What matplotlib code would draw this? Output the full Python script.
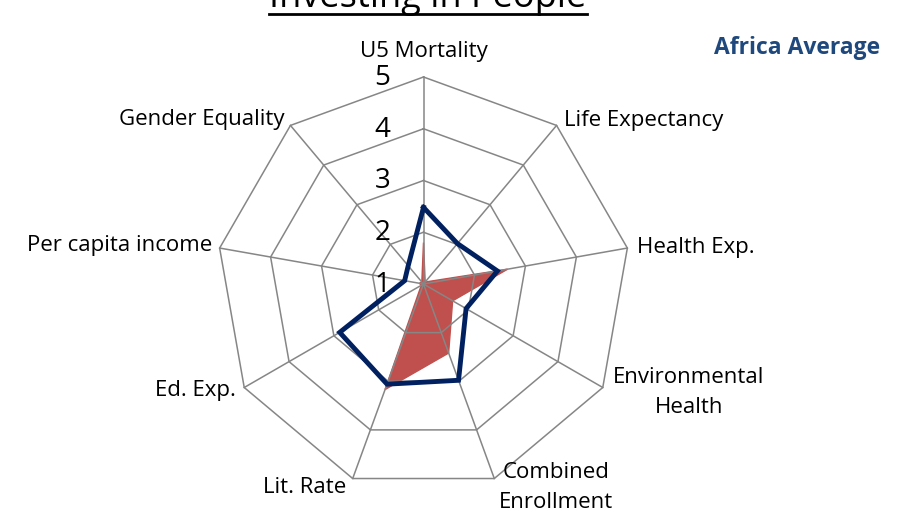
import numpy as np
import matplotlib
matplotlib.use('Agg')
import matplotlib.pyplot as plt
from matplotlib.lines import Line2D

# data
categories = ['U5 Mortality', 'Life Expectancy', 'Health Exp.', 'Environmental\nHealth',
              'Combined\nEnrollment', 'Lit. Rate', 'Ed. Exp.', 'Per capita income',
              'Gender Equality']
africa_average = [2.48, 2.02, 2.45, 1.95, 2.98, 3.06, 2.87, 1.37, 1.46]
country = [1.80, 1.05, 2.65, 1.65, 2.42, 3.17, 1.05, 1.08, 1.05]
ring_levels = [1, 2, 3, 4, 5]
title = 'Investing in People'
series_name = 'Africa Average'

# label placement: (ha, dx, dy) in pixels from the outer vertex
label_pos = [('center', 0, 25), ('left', 7, 5), ('left', 10, 1), ('center', 86, -5),
             ('center', 62, -9), ('center', -48, -9), ('right', -8, -3),
             ('right', -7, 3), ('right', -6, 6)]

grid_col = '#868686'
navy = '#002060'
red = '#C0504D'

plt.rcParams['font.family'] = ['Open Sans', 'DejaVu Sans']

fig = plt.figure(figsize=(9.07, 5.13), dpi=100)
ax = fig.add_axes([216.5/907, 22/513, 414/907, 414/513], polar=True)
ax.set_theta_zero_location('N')
ax.set_theta_direction(-1)
ax.set_rlim(ring_levels[0], ring_levels[-1])
ax.grid(False)
ax.spines['polar'].set_visible(False)
ax.set_xticks([])
ax.set_yticks([])
ax.patch.set_visible(False)

n = len(categories)
theta = np.arange(n) * 2*np.pi/n
theta_c = np.append(theta, theta[0])

def close(vals):
	return np.append(vals, vals[0])

# filled series under the grid
ax.fill(theta_c, close(country), color=red, lw=1, joinstyle='bevel', zorder=1, clip_on=False)

# polygon grid + spokes
for r in ring_levels[1:]:
	ax.plot(theta_c, [r]*(n+1), color=grid_col, lw=1.1, zorder=2, clip_on=False)
for t in theta:
	ax.plot([t, t], [ring_levels[0], ring_levels[-1]], color=grid_col, lw=1.1, zorder=2, clip_on=False)

ax.plot(theta_c, close(africa_average), color=navy, lw=3.5, zorder=3, clip_on=False,
        solid_joinstyle='miter')

# radial tick labels
for r in ring_levels:
	ax.annotate(str(r), xy=(0, r), xytext=(-41, -1), textcoords='offset pixels',
	            ha='center', va='center', fontsize=20, color='black', annotation_clip=False)

# category labels
for t, lab, (ha, dx, dy) in zip(theta, categories, label_pos):
	ax.annotate(lab, xy=(t, ring_levels[-1]), xytext=(dx, dy), textcoords='offset pixels',
	            ha=ha, va='center', fontsize=16, multialignment='center', linespacing=1.55,
	            annotation_clip=False)

# title, cut off at the top, underlined
tt = fig.text(428/907, 1 - 7/513, title, ha='center', va='baseline', fontsize=26)
fig.text(797/907, 1 - 48/513, series_name, ha='center', va='center', fontsize=16.5,
         fontweight='bold', color='#1F497D')

fig.canvas.draw()
bb = tt.get_window_extent()
y_ul = 513 - 14
fig.add_artist(Line2D([bb.x0/907, bb.x1/907], [y_ul/513, y_ul/513], color='black', lw=2,
                      transform=fig.transFigure))

plt.savefig('out.png', dpi=100)
